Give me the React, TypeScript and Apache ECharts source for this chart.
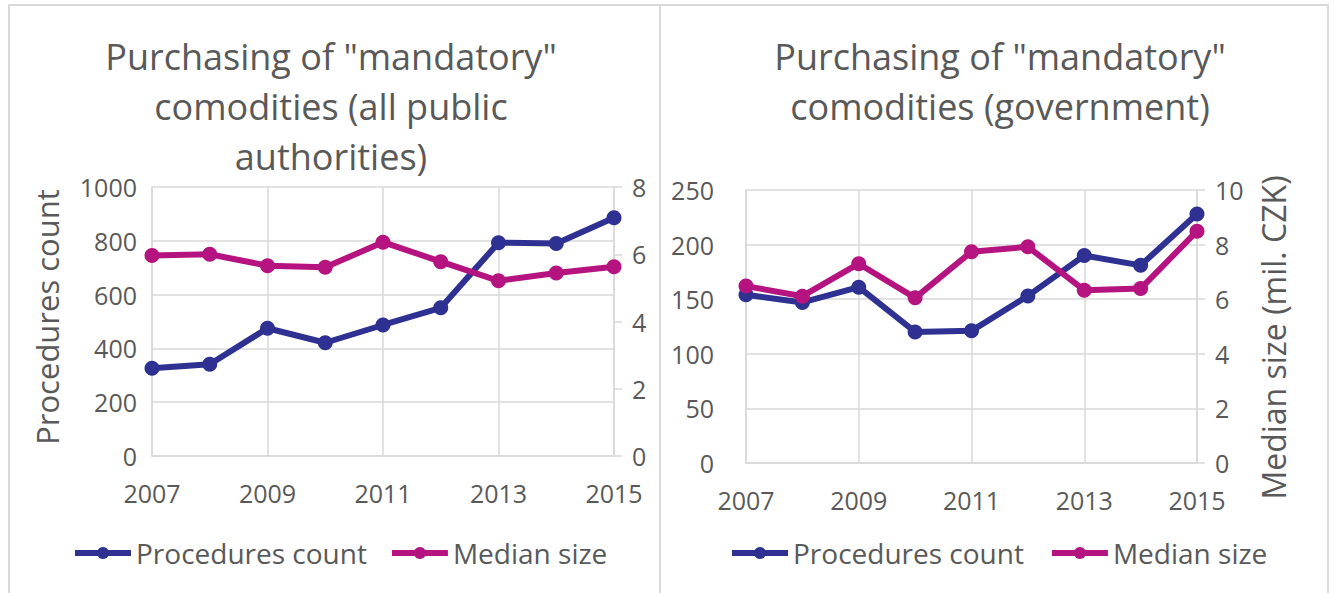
import React, { useEffect, useRef } from "react";
import * as echarts from "echarts";

const years = ["2007", "2008", "2009", "2010", "2011", "2012", "2013", "2014", "2015"];
const allCount = [326, 341, 475, 421, 487, 551, 793, 790, 886];
const allMedian = [5.96, 6.0, 5.66, 5.61, 6.36, 5.78, 5.21, 5.44, 5.63];
const govCount = [154, 147, 161, 120, 121, 153, 190, 181, 228];
const govMedian = [6.48, 6.11, 7.3, 6.05, 7.74, 7.92, 6.33, 6.39, 8.49];
const titleAll = 'Purchasing of "mandatory"\ncomodities (all public\nauthorities)';
const titleGov = 'Purchasing of "mandatory"\ncomodities (government)';
const seriesNames = ["Procedures count", "Median size"];

const NAVY = "#2E3192";
const MAGENTA = "#B5137F";
const TEXT = "#595959";
const GRID = "#D9D9D9";
const FONT = "Open Sans";

export default function App() {
  const ref = useRef<HTMLDivElement>(null);
  useEffect(() => {
    document.body.style.margin = "0";
    const chart = echarts.init(ref.current!, undefined, { renderer: "svg" });
    const labelStyle = { color: TEXT, fontFamily: FONT, fontSize: 25 };
    const xAxis = (gridIndex: number) => ({
      type: "category",
      gridIndex,
      data: years,
      boundaryGap: false,
      axisLine: { show: true, lineStyle: { color: GRID, width: 1.5 } },
      axisTick: { show: false },
      axisLabel: { ...labelStyle, interval: 1, margin: 24 },
      splitLine: { show: true, interval: 1, lineStyle: { color: GRID, width: 1.5 } },
    });
    const yAxis = (gridIndex: number, position: string, max: number, interval: number, margin: number, extra: any = {}) => ({
      type: "value",
      gridIndex,
      position,
      min: 0,
      max,
      interval,
      axisLine: { show: true, lineStyle: { color: GRID, width: 1.5 } },
      axisTick: position === "right" ? { show: true, length: 8, lineStyle: { color: GRID, width: 1.5 } } : { show: false },
      axisLabel: { ...labelStyle, margin, formatter: (v: number) => String(v) },
      splitLine: position === "left" ? { show: true, lineStyle: { color: GRID, width: 1.5 } } : { show: false },
      ...extra,
    });
    const line = (name: string, data: number[], color: string, xi: number, yi: number) => ({
      type: "line",
      name,
      data,
      xAxisIndex: xi,
      yAxisIndex: yi,
      symbol: "circle",
      symbolSize: 15,
      lineStyle: { color, width: 6 },
      itemStyle: { color },
      emphasis: { disabled: true },
    });
    const legend = (left: number, gap: number) => ({
      left,
      top: 534,
      data: seriesNames,
      itemWidth: 56,
      itemHeight: 15,
      itemGap: gap,
      lineStyle: { width: 6 },
      textStyle: { color: TEXT, fontFamily: FONT, fontSize: 28 },
      selectedMode: false,
    });
    const titleStyle = { color: TEXT, fontFamily: FONT, fontSize: 36, fontWeight: "normal", lineHeight: 50 };
    chart.setOption({
      animation: false,
      backgroundColor: "#fff",
      title: [
        { text: titleAll, left: 326, top: 26, textAlign: "center", textStyle: titleStyle },
        { text: titleGov, left: 995, top: 26, textAlign: "center", textStyle: titleStyle },
      ],
      legend: [legend(67, 22), legend(724, 25)],
      grid: [
        { left: 152, right: 1334 - 614, top: 187, bottom: 593 - 456 },
        { left: 746, right: 1334 - 1197, top: 190, bottom: 593 - 463 },
      ],
      xAxis: [xAxis(0), xAxis(1)],
      yAxis: [
        yAxis(0, "left", 1000, 200, 15, {
          name: "Procedures count",
          nameLocation: "middle",
          nameRotate: 90,
          nameGap: 90,
          nameTextStyle: { color: TEXT, fontFamily: FONT, fontSize: 31, padding: [0, 0, 0, 9] },
        }),
        yAxis(0, "right", 8, 2, 18),
        yAxis(1, "left", 250, 50, 32),
        yAxis(1, "right", 10, 2, 18, {
          name: "Median size (mil. CZK)",
          nameLocation: "middle",
          nameRotate: 90,
          nameGap: 60,
          nameTextStyle: { color: TEXT, fontFamily: FONT, fontSize: 32, padding: [0, 22, 0, 0] },
        }),
      ],
      series: [
        line(seriesNames[0], allCount, NAVY, 0, 0),
        line(seriesNames[1], allMedian, MAGENTA, 0, 1),
        line(seriesNames[0], govCount, NAVY, 1, 2),
        line(seriesNames[1], govMedian, MAGENTA, 1, 3),
      ],
      graphic: [
        { type: "rect", shape: { x: 9, y: 5, width: 651, height: 620 }, style: { fill: "none", stroke: GRID, lineWidth: 2 }, silent: true },
        { type: "rect", shape: { x: 660, y: 5, width: 668, height: 620 }, style: { fill: "none", stroke: GRID, lineWidth: 2 }, silent: true },
      ],
    });
    return () => chart.dispose();
  }, []);
  return <div ref={ref} style={{ width: 1334, height: 593, position: "absolute", left: 0, top: 0 }} />;
}
